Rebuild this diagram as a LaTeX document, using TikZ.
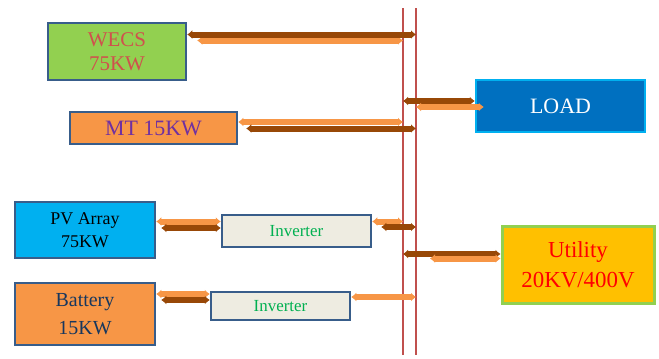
\documentclass[tikz,border=0pt]{standalone}
\usepackage{fontspec}
\setmainfont{Liberation Serif}
\usetikzlibrary{arrows.meta}
\begin{document}
\begin{tikzpicture}[x=1bp,y=-1bp,every node/.style={align=center,inner sep=0},>={Latex[length=5bp,width=9bp]},
  unit/.style={draw=frame,line width=2.5bp},
  brn/.style={<->,draw=rust,line width=6bp},
  org/.style={<->,draw=amber,line width=6bp},
  bus/.style={draw=busred,line width=1.3bp}]
\path[use as bounding box] (0,0) rectangle (659,358);
\definecolor{frame}{HTML}{385D8A}
\definecolor{rust}{HTML}{984807}
\definecolor{amber}{HTML}{F79646}
\definecolor{busred}{HTML}{C0504D}
\definecolor{leaf}{HTML}{92D050}
\definecolor{brick}{HTML}{D0504D}
\definecolor{sea}{HTML}{0070C0}
\definecolor{sky}{HTML}{00B0F0}
\definecolor{gold}{HTML}{FFC000}
\definecolor{cream}{HTML}{EEECE1}
\definecolor{plum}{HTML}{7030A0}
\definecolor{grass}{HTML}{00B050}
\definecolor{navy}{HTML}{17375E}
% two bus bars
\coordinate (busA) at (403,8);
\coordinate (busAend) at (403,355);
\coordinate (busB) at (416,8);
\coordinate (busBend) at (416,355);
\draw[bus] (busA)--(busAend);
\draw[bus] (busB)--(busBend);
% units
\node[unit,fill=leaf,text=brick,minimum width=138bp,minimum height=57bp,font=\fontsize{21}{24}\selectfont] (wecs) at (117,51.5) {WECS\\75KW};
\node[unit,fill=amber,text=plum,minimum width=167bp,minimum height=32bp,font=\fontsize{22}{24}\selectfont] (mt) at (153.5,128) {MT 15KW};
\node[draw=sky,line width=2.5bp,fill=sea,text=white,minimum width=169bp,minimum height=52bp,font=\fontsize{22}{24}\selectfont] (load) at (560.5,106) {LOAD};
\node[unit,fill=sky,text=black,minimum width=140bp,minimum height=56bp,font=\fontsize{18}{23}\selectfont] (pv) at (85,230) {PV Array\\75KW};
\node[unit,fill=cream,text=grass,minimum width=149bp,minimum height=32bp,font=\fontsize{17}{20}\selectfont] (inva) at (296.5,231) {Inverter};
\node[draw=leaf,line width=3bp,fill=gold,text=red,minimum width=152bp,minimum height=77bp,font=\fontsize{23}{30}\selectfont] (util) at (578,264.5) {Utility\\20KV/400V};
\node[unit,fill=amber,text=navy,minimum width=140bp,minimum height=62bp,font=\fontsize{20}{28}\selectfont] (bat) at (85,314) {Battery\\15KW};
\node[unit,fill=cream,text=grass,minimum width=139bp,minimum height=28bp,font=\fontsize{17}{20}\selectfont] (invb) at (280.5,306) {Inverter};
% links
\draw[org,shorten <=10bp] (wecs.east |- 0,40.5)--(busA |- 0,40.5);
\draw[brn] (wecs.east |- 0,34.5)--(busB |- 0,34.5);
\draw[org] (mt.east |- 0,122)--(busA |- 0,122);
\draw[brn,shorten <=8bp] (mt.east |- 0,128.5)--(busB |- 0,128.5);
\draw[brn] (busA |- 0,101)--(load.west |- 0,101);
\draw[org,shorten >=-9bp] (busB |- 0,107)--(load.west |- 0,107);
\draw[org] (pv.east |- 0,221.5)--(inva.west |- 0,221.5);
\draw[brn,shorten <=5bp] (pv.east |- 0,228)--(inva.west |- 0,228);
\draw[org] (inva.east |- 0,221.5)--(busA |- 0,221.5);
\draw[brn,shorten <=9bp] (inva.east |- 0,227)--(busB |- 0,227);
\draw[brn] (busA |- 0,254)--(util.west |- 0,254);
\draw[org,shorten <=14bp] (busB |- 0,258.5)--(util.west |- 0,258.5);
\draw[org] (bat.east |- 0,294)--(invb.west |- 0,294);
\draw[brn,shorten <=5bp] (bat.east |- 0,300)--(invb.west |- 0,300);
\draw[org] (invb.east |- 0,297)--(busB |- 0,297);
\end{tikzpicture}
\end{document}
